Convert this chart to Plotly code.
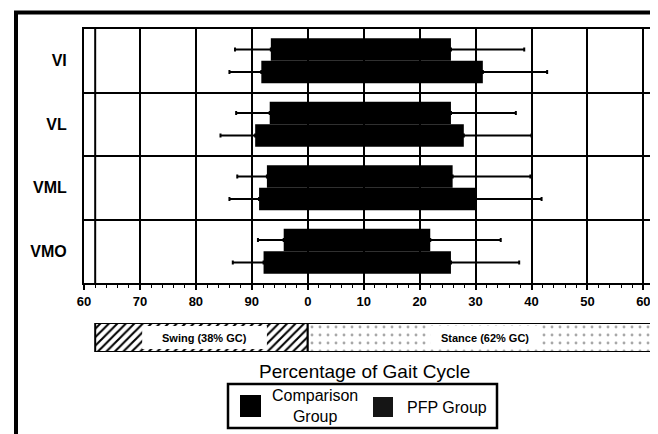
import plotly.graph_objects as go

# ---------------- data (percentage of gait cycle) ----------------
muscles = ["VI", "VL", "VML", "VMO"]
# onset values above 60 belong to the preceding swing phase
comp_onset = [93.4, 93.2, 92.7, 95.7]
comp_offset = [25.6, 25.6, 25.9, 21.9]
comp_onset_sd = [87.0, 87.2, 87.4, 91.1]
comp_offset_sd = [38.7, 37.2, 39.8, 34.5]

pfp_onset = [91.7, 90.6, 91.3, 92.1]
pfp_offset = [31.3, 27.9, 30.0, 25.6]
pfp_onset_sd = [86.0, 84.4, 86.0, 86.6]
pfp_offset_sd = [42.8, 40.0, 41.8, 37.8]

tick_vals = [-40, -30, -20, -10, 0, 10, 20, 30, 40, 50, 60]
tick_text = ["60", "70", "80", "90", "0", "10", "20", "30", "40", "50", "60"]

toe_off = 62
swing_pct = 38
stance_pct = 62
swing_label = "Swing (38% GC)"
stance_label = "Stance (62% GC)"
legend_names = ["Comparison<br>Group", "PFP Group"]


def wrap(v):
    return v - 100 if v > 60 else v


# ---------------- layout helpers ----------------
# the page body adds an 8px margin, so the figure is 8px smaller each way
PAGE_OFF = 8
FW, FH = 658 - PAGE_OFF, 434 - PAGE_OFF
L, R, T, B = 84 - PAGE_OFF, 4, 29 - PAGE_OFF, 0
W, H = FW - L - R, FH - T - B


def px(x):  # screen x -> paper fraction
    return (x - PAGE_OFF - L) / W


def py(y):  # screen y -> paper fraction
    return (FH - B - (y - PAGE_OFF)) / H


X_MAIN = [-40, 61.2]
X_GAIT = [-40, 61.9]

fig = go.Figure()

groups = [
    (comp_onset, comp_offset, comp_onset_sd, comp_offset_sd, -0.355),
    (pfp_onset, pfp_offset, pfp_onset_sd, pfp_offset_sd, 0.0),
]
for on, off, lo, hi, offs in groups:
    s = [wrap(v) for v in on]
    e = list(off)
    lo_w = [wrap(v) for v in lo]
    # main bar + right whisker
    fig.add_trace(go.Bar(
        y=muscles, base=s, x=[b - a for a, b in zip(s, e)], orientation="h",
        width=0.355, offset=offs,
        marker=dict(color="black", line=dict(width=0)),
        error_x=dict(type="data", symmetric=False,
                     array=[h - b for h, b in zip(hi, e)],
                     arrayminus=[0] * len(e),
                     color="black", thickness=2, width=2),
        showlegend=False, hoverinfo="skip"))
    # left whisker (transparent bar drawn from end back to onset)
    fig.add_trace(go.Bar(
        y=muscles, base=e, x=[a - b for a, b in zip(s, e)], orientation="h",
        width=0.355, offset=offs,
        marker=dict(color="rgba(0,0,0,0)", line=dict(width=0)),
        error_x=dict(type="data", symmetric=False,
                     array=[0] * len(s),
                     arrayminus=[a - l for a, l in zip(s, lo_w)],
                     color="black", thickness=2, width=2),
        showlegend=False, hoverinfo="skip"))

# gait-phase bar
fig.add_trace(go.Bar(
    y=[0], base=[-swing_pct], x=[swing_pct], orientation="h", width=1, offset=-0.5,
    xaxis="x2", yaxis="y2",
    marker=dict(color="white",
                pattern=dict(shape="/", fgcolor="black", bgcolor="white", size=6, solidity=0.35),
                line=dict(color="black", width=2)),
    showlegend=False, hoverinfo="skip"))
fig.add_trace(go.Bar(
    y=[0], base=[0], x=[stance_pct], orientation="h", width=1, offset=-0.5,
    xaxis="x2", yaxis="y2",
    marker=dict(color="white",
                pattern=dict(shape=".", fgcolor="#a8a8a8", bgcolor="white", size=8, solidity=0.1),
                line=dict(color="black", width=2)),
    showlegend=False, hoverinfo="skip"))

shapes = []
# white label boxes in the gait bar
shapes.append(dict(type="rect", xref="x2", yref="y2", x0=-29.6, x1=-7.3, y0=-0.4, y1=0.4,
                   fillcolor="white", line=dict(width=0), layer="above"))
shapes.append(dict(type="rect", xref="x2", yref="y2", x0=21.9, x1=41.5, y0=-0.4, y1=0.4,
                   fillcolor="white", line=dict(width=0), layer="above"))
# toe-off line
shapes.append(dict(type="line", xref="x", yref="y domain", x0=toe_off - 100, x1=toe_off - 100,
                   y0=0, y1=1, line=dict(color="black", width=2)))
# outer border of the figure
shapes.append(dict(type="line", xref="paper", yref="paper", x0=px(14), x1=px(660),
                   y0=py(12.5), y1=py(12.5), line=dict(color="black", width=4)))
shapes.append(dict(type="line", xref="paper", yref="paper", x0=px(16), x1=px(16),
                   y0=py(11), y1=py(436), line=dict(color="black", width=4)))
# legend box and symbols
shapes.append(dict(type="rect", xref="paper", yref="paper", x0=px(228), x1=px(497),
                   y0=py(428), y1=py(384), line=dict(color="black", width=2.5),
                   fillcolor="white"))
shapes.append(dict(type="rect", xref="paper", yref="paper", x0=px(240), x1=px(261),
                   y0=py(417), y1=py(395), line=dict(width=0), fillcolor="black"))
shapes.append(dict(type="rect", xref="paper", yref="paper", x0=px(373), x1=px(393),
                   y0=py(417), y1=py(397), line=dict(width=0), fillcolor="#151515"))

annotations = [
    dict(text=swing_label, xref="x2", yref="y2", x=-18.4, y=0, showarrow=False,
         font=dict(size=11, weight="bold")),
    dict(text=stance_label, xref="x2", yref="y2", x=31.7, y=0, showarrow=False,
         font=dict(size=11, weight="bold")),
    dict(text="Percentage of Gait Cycle", xref="paper", yref="paper", x=px(364), y=py(371),
         xanchor="center", yanchor="middle", showarrow=False, font=dict(size=19)),
    dict(text=legend_names[0], xref="paper", yref="paper", x=px(315), y=py(406),
         xanchor="center", yanchor="middle", showarrow=False, align="center",
         font=dict(size=16)),
    dict(text=legend_names[1], xref="paper", yref="paper", x=px(447), y=py(407),
         xanchor="center", yanchor="middle", showarrow=False, font=dict(size=16)),
]

fig.update_layout(
    template="none",
    width=FW, height=FH,
    margin=dict(l=L, r=R, t=T, b=B, pad=0, autoexpand=False),
    barmode="overlay",
    plot_bgcolor="white", paper_bgcolor="white",
    font=dict(family="Liberation Sans, Arial, sans-serif", color="black"),
    showlegend=False,
    shapes=shapes,
    annotations=annotations,
    xaxis=dict(
        domain=[0, (X_MAIN[1] - X_MAIN[0]) / (X_GAIT[1] - X_GAIT[0])],
        range=X_MAIN, anchor="y", automargin=False,
        tickmode="array", tickvals=tick_vals, ticktext=tick_text,
        tickfont=dict(size=13, weight="bold"),
        showgrid=True, gridcolor="black", gridwidth=2,
        zeroline=False,
        showline=True, mirror=True, linecolor="black", linewidth=2,
        ticks="outside", ticklen=5, tickwidth=2, tickcolor="black",
        minor=dict(dtick=2, tick0=0, ticks="outside", ticklen=3, tickwidth=1,
                   tickcolor="black", showgrid=False),
    ),
    yaxis=dict(
        domain=[py(283), 1], anchor="x", automargin=False,
        type="category", categoryorder="array", categoryarray=muscles,
        autorange="reversed",
        tickson="boundaries", ticks="",
        showgrid=True, gridcolor="black", gridwidth=2,
        zeroline=False,
        showline=True, mirror=True, linecolor="black", linewidth=2,
        tickfont=dict(size=16, weight="bold"),
        ticklabelstandoff=12,
    ),
    xaxis2=dict(domain=[0, 1], range=X_GAIT, anchor="y2", visible=False, automargin=False),
    yaxis2=dict(domain=[py(352), py(323)], range=[-0.5, 0.5], anchor="x2", visible=False,
                automargin=False),
)

fig.write_html("out.html")
